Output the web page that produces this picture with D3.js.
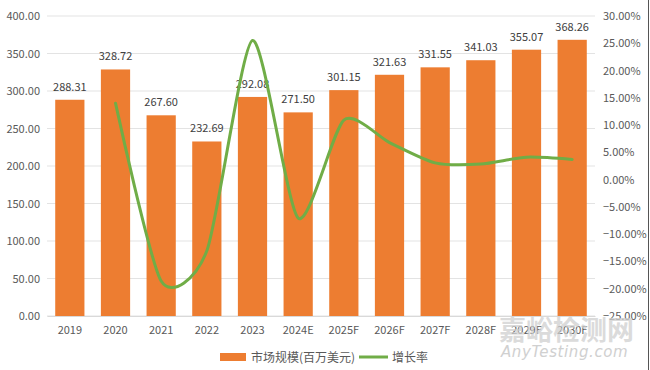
<!DOCTYPE html>
<html><head><meta charset="utf-8">
<script src="https://cdn.jsdelivr.net/npm/d3@7"></script>
<style>body{margin:0;background:#fff}svg{display:block}</style>
</head><body><svg id="c" width="650" height="370"></svg>
<script>
const categories = ["2019","2020","2021","2022","2023","2024E","2025F","2026F","2027F","2028F","2029F","2030F"];
const marketSize = [288.31,328.72,267.60,232.69,292.08,271.50,301.15,321.63,331.55,341.03,355.07,368.26];
const growthRate = [null,14.02,-18.59,-13.05,25.52,-7.05,10.92,6.80,3.08,2.86,4.12,3.71];
const leftTicks = [0,50,100,150,200,250,300,350,400];
const rightTicks = [-25,-20,-15,-10,-5,0,5,10,15,20,25,30];
const seriesNames = ["市场规模(百万美元)","增长率"];

const svg = d3.select("#c");
const font = "'Microsoft YaHei','Noto Sans CJK SC','DejaVu Sans',sans-serif";
const L = 47, R = 595, T = 16, B = 316;
const x = d3.scaleBand().domain(categories).range([L, R]).paddingInner(0.36).paddingOuter(0.18);
const y = d3.scaleLinear().domain([0,400]).range([B, T]);
const y2 = d3.scaleLinear().domain([-25,30]).range([B, T]);

// gridlines
svg.append("g").selectAll("line").data(leftTicks).join("line")
  .attr("x1", L).attr("x2", R).attr("y1", d=>y(d)).attr("y2", d=>y(d))
  .attr("stroke", "#e3e3e3").attr("stroke-width", 1);

// left axis
const ga = svg.append("g").attr("transform", `translate(${L},0)`)
  .call(d3.axisLeft(y).tickValues(leftTicks).tickFormat(d3.format(".2f")).tickSize(0).tickPadding(7));
ga.select(".domain").remove();
ga.selectAll("text").attr("fill","#595959").style("font-size","11px").style("font-family", font);

// right axis
const gr = svg.append("g").attr("transform", `translate(${R},0)`)
  .call(d3.axisRight(y2).tickValues(rightTicks).tickFormat(d=>d3.format(".2f")(d)+"%").tickSize(0).tickPadding(8));
gr.select(".domain").remove();
gr.selectAll("text").attr("fill","#595959").style("font-size","11px").style("font-family", font);

// bottom axis
const gb = svg.append("g").attr("transform", `translate(0,${B})`)
  .call(d3.axisBottom(x).tickSize(0).tickPadding(10));
gb.select(".domain").attr("stroke","#d9d9d9");
gb.selectAll("text").attr("fill","#595959").style("font-size","11px").style("font-family", font);

// bars
svg.append("g").selectAll("rect").data(marketSize).join("rect")
  .attr("x", (d,i)=>x(categories[i])).attr("width", x.bandwidth())
  .attr("y", d=>y(d)).attr("height", d=>B - y(d))
  .attr("fill", "#ED7D31");

// labels
svg.append("g").selectAll("text").data(marketSize).join("text")
  .attr("x", (d,i)=>x(categories[i]) + x.bandwidth()/2).attr("y", d=>y(d) - 9)
  .attr("text-anchor","middle").attr("fill","#404040")
  .style("font-size","11px").style("font-family", font)
  .text(d=>d3.format(".2f")(d));

// line
const pts = growthRate.map((v,i)=>({v, c: categories[i]})).filter(p=>p.v !== null);
const line = d3.line().x(p=>x(p.c)+x.bandwidth()/2).y(p=>y2(p.v)).curve(d3.curveCardinal.tension(0.3));
svg.append("path").datum(pts).attr("d", line).attr("fill","none")
  .attr("stroke","#70AD47").attr("stroke-width",3).attr("stroke-linecap","round");

// legend
const lg = svg.append("g").attr("transform","translate(0,357)");
lg.append("rect").attr("x",220).attr("y",-4).attr("width",26).attr("height",8).attr("fill","#ED7D31");
lg.append("text").attr("x",251).attr("y",4.5).text(seriesNames[0]).attr("fill","#595959")
  .style("font-size","12px").style("font-family", font);
lg.append("line").attr("x1",359).attr("x2",388).attr("y1",0).attr("y2",0).attr("stroke","#70AD47").attr("stroke-width",3);
lg.append("text").attr("x",392).attr("y",4.5).text(seriesNames[1]).attr("fill","#595959")
  .style("font-size","12px").style("font-family", font);

// watermark
svg.append("text").attr("x",499).attr("y",340).text("嘉峪检测网").attr("fill","#cfcfcf").attr("opacity",0.75)
  .style("font-size","27px").style("font-family", font).style("font-weight","bold");
svg.append("text").attr("x",501).attr("y",357).text("AnyTesting.com").attr("fill","#c8c8c8").attr("opacity",0.85)
  .style("font-size","15px").style("font-style","italic").style("letter-spacing","0.6px")
  .style("font-family", "'DejaVu Sans',sans-serif");

// right border
svg.append("line").attr("x1",648.5).attr("x2",648.5).attr("y1",0).attr("y2",370).attr("stroke","#555").attr("stroke-width",1);
</script></body></html>
